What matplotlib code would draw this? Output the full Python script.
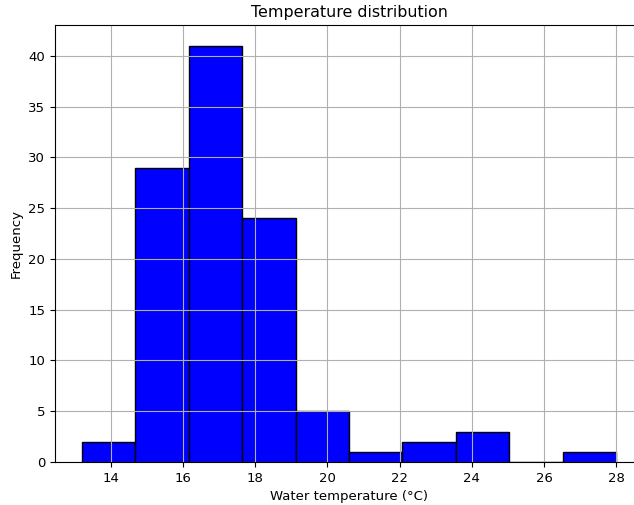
import matplotlib
matplotlib.use('Agg')
import matplotlib.pyplot as plt

plt.rcParams['font.size'] = 9.5

# histogram bin edges (°C) and counts
bin_edges = [13.2, 14.68, 16.16, 17.64, 19.12, 20.6, 22.08, 23.56, 25.04, 26.52, 28.0]
counts = [2, 29, 41, 24, 5, 1, 2, 3, 0, 1]

fig = plt.figure(figsize=(6.34, 5.05), dpi=100)
# axes runs past the right edge, as in the cropped original
ax = fig.add_axes([55 / 634, 43 / 505, 588 / 634, 437 / 505])

ax.hist(bin_edges[:-1], bins=bin_edges, weights=counts, color='blue', edgecolor='black')
ax.grid(True)
ax.set_title('Temperature distribution', fontsize=11.4)
ax.set_xlabel('Water temperature (°C)')
ax.set_ylabel('Frequency')

fig.savefig('out.png', dpi=100)
